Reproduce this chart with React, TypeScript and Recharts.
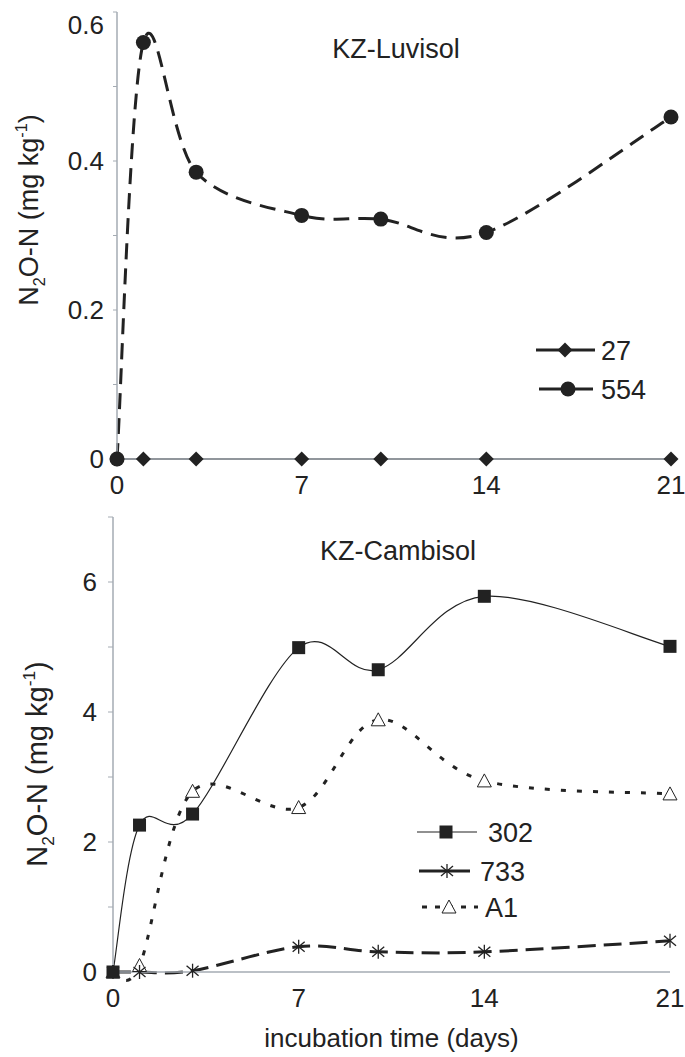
import React from 'react';
import { LineChart, Line, XAxis, YAxis, Legend } from 'recharts';

// incubation days and N2O-N values
const days = [0, 1, 3, 7, 10, 14, 21];
const luvisol27 = [0, 0, 0, 0, 0, 0, 0];
const luvisol554 = [0, 0.559, 0.385, 0.327, 0.322, 0.304, 0.459];
const cambisol302 = [0, 2.26, 2.43, 4.99, 4.65, 5.78, 5.01];
const cambisol733 = [0, 0, 0.02, 0.39, 0.31, 0.31, 0.48];
const cambisolA1 = [0, 0.1, 2.78, 2.53, 3.88, 2.94, 2.74];

const xTicks = [0, 7, 14, 21];
const yTicksTop = [0, 0.1, 0.2, 0.3, 0.4, 0.5, 0.6];
const yLabelsTop = [0, 0.2, 0.4, 0.6];
const yTicksBottom = [0, 1, 2, 3, 4, 5, 6, 7];
const yLabelsBottom = [0, 2, 4, 6];

const topData = days.map((d, i) => ({ day: d, s27: luvisol27[i], s554: luvisol554[i] }));
const bottomData = days.map((d, i) => ({
  day: d,
  s302: cambisol302[i],
  s733: cambisol733[i],
  sA1: cambisolA1[i],
}));

const FONT = '"Liberation Sans", Arial, sans-serif';
const INK = '#222';
const AXIS = '#a4abb3';

// Excel-like smoothed line (catmull-rom style bezier)
const smoothCurve = (context: any) => {
  let pts: [number, number][] = [];
  return {
    areaStart() {},
    areaEnd() {},
    lineStart() {
      pts = [];
    },
    point(x: number, y: number) {
      pts.push([+x, +y]);
    },
    lineEnd() {
      if (!pts.length) return;
      context.moveTo(pts[0][0], pts[0][1]);
      for (let i = 0; i < pts.length - 1; i++) {
        const p0 = pts[i - 1] || pts[i];
        const p1 = pts[i];
        const p2 = pts[i + 1];
        const p3 = pts[i + 2] || p2;
        context.bezierCurveTo(
          p1[0] + (p2[0] - p0[0]) / 6,
          p1[1] + (p2[1] - p0[1]) / 6,
          p2[0] - (p3[0] - p1[0]) / 6,
          p2[1] - (p3[1] - p1[1]) / 6,
          p2[0],
          p2[1]
        );
      }
    },
  };
};

function Marker({ shape, cx, cy }: { shape: string; cx: number; cy: number }) {
  switch (shape) {
    case 'diamond':
      return <polygon points={`${cx},${cy - 7.5} ${cx + 7.5},${cy} ${cx},${cy + 7.5} ${cx - 7.5},${cy}`} fill={INK} />;
    case 'circle':
      return <circle cx={cx} cy={cy} r={7.5} fill={INK} />;
    case 'square':
      return <rect x={cx - 6.5} y={cy - 6.5} width={13} height={13} fill={INK} />;
    case 'triangle':
      return (
        <polygon
          points={`${cx},${cy - 7} ${cx + 7},${cy + 6} ${cx - 7},${cy + 6}`}
          fill="#fff"
          stroke={INK}
          strokeWidth={1}
        />
      );
    default:
      return (
        <g stroke={INK} strokeWidth={1.3}>
          <line x1={cx} y1={cy - 7} x2={cx} y2={cy + 7} />
          <line x1={cx - 6} y1={cy - 5} x2={cx + 6} y2={cy + 5} />
          <line x1={cx - 6} y1={cy + 5} x2={cx + 6} y2={cy - 5} />
        </g>
      );
  }
}

const dotFor = (shape: string) => (p: any) => (
  <Marker key={`${shape}-${p.index}`} shape={shape} cx={p.cx} cy={p.cy} />
);

const YTick = (props: any) => {
  const { x, y, payload, labels, top } = props;
  if (!labels.includes(payload.value)) return null;
  const shift = payload.value === top ? 13 : 0;
  return (
    <text x={x} y={y + shift} dy="0.36em" textAnchor="end" fontSize={26} fill={INK} fontFamily={FONT}>
      {payload.value}
    </text>
  );
};

const YTitle = ({ x, y, size }: { x: number; y: number; size: number }) => (
  <text
    x={x}
    y={y}
    transform={`rotate(-90 ${x} ${y})`}
    textAnchor="middle"
    fontSize={size}
    fill={INK}
    fontFamily={FONT}
  >
    N
    <tspan dy={size * 0.25} fontSize={size * 0.6}>2</tspan>
    <tspan dy={-size * 0.25}>O-N (mg kg</tspan>
    <tspan dy={-size * 0.4} fontSize={size * 0.6}>-1</tspan>
    <tspan dy={size * 0.4}>)</tspan>
  </text>
);

type LegendItem = {
  name: string;
  shape: string;
  y: number;
  x1: number;
  x2: number;
  mx: number;
  tx: number;
  w: number;
  dash?: string;
};

const LegendBlock = ({ items }: { items: LegendItem[] }) => (
  <svg width={150} height={110} style={{ overflow: 'visible' }}>
    {items.map((it) => (
      <g key={it.name}>
        <line x1={it.x1} x2={it.x2} y1={it.y} y2={it.y} stroke={INK} strokeWidth={it.w} strokeDasharray={it.dash} />
        <Marker shape={it.shape} cx={it.mx} cy={it.y} />
        <text x={it.tx} y={it.y} dy="0.36em" fontSize={27} fill={INK} fontFamily={FONT}>
          {it.name}
        </text>
      </g>
    ))}
  </svg>
);

const topLegend: LegendItem[] = [
  { name: '27', shape: 'diamond', y: 14, x1: 0, x2: 59, mx: 29, tx: 65, w: 3 },
  { name: '554', shape: 'circle', y: 53, x1: 3, x2: 57, mx: 32, tx: 65, w: 3 },
];

const bottomLegend: LegendItem[] = [
  { name: '302', shape: 'square', y: 14, x1: 1, x2: 61, mx: 30, tx: 72, w: 1.2 },
  { name: '733', shape: 'star', y: 53, x1: 3, x2: 54, mx: 31, tx: 64, w: 3 },
  { name: 'A1', shape: 'triangle', y: 89, x1: 6, x2: 62, mx: 33, tx: 69, w: 3, dash: '5 8' },
];

const xTick = { fill: INK, fontSize: 26, fontFamily: FONT };

export default function App() {
  return (
    <div style={{ position: 'absolute', left: 0, top: 0, width: 685, height: 1057, background: '#fff' }}>
      <div style={{ position: 'absolute', left: 0, top: 0 }}>
        <LineChart width={685} height={500} data={topData} margin={{ top: 12, right: 14, bottom: 0, left: 0 }}>
          <XAxis
            type="number"
            dataKey="day"
            domain={[0, 21]}
            ticks={xTicks}
            interval={0}
            tickLine={false}
            tickSize={6}
            tickMargin={11}
            height={41}
            axisLine={{ stroke: AXIS, strokeWidth: 1.5 }}
            tick={xTick}
          />
          <YAxis
            type="number"
            domain={[0, 0.6]}
            ticks={yTicksTop}
            interval={0}
            width={117}
            tickSize={4}
            tickMargin={9}
            tickLine={{ stroke: AXIS }}
            axisLine={{ stroke: AXIS, strokeWidth: 1.5 }}
            tick={<YTick labels={yLabelsTop} top={0.6} />}
          />
          <Line
            dataKey="s27"
            name="27"
            type="linear"
            stroke={INK}
            strokeWidth={1.5}
            dot={dotFor('diamond')}
            activeDot={false}
            isAnimationActive={false}
          />
          <Line
            dataKey="s554"
            name="554"
            type={smoothCurve as any}
            stroke={INK}
            strokeWidth={3}
            strokeDasharray="16 9"
            dot={dotFor('circle')}
            activeDot={false}
            isAnimationActive={false}
          />
          <Legend
            layout="horizontal"
            verticalAlign="middle"
            align="center"
            wrapperStyle={{ left: 536, top: 336, width: 150 }}
            content={() => <LegendBlock items={topLegend} />}
          />
          <text x={396} y={58} textAnchor="middle" fontSize={27} fill={INK} fontFamily={FONT}>
            KZ-Luvisol
          </text>
          <YTitle x={38} y={210} size={27} />
        </LineChart>
      </div>
      <div style={{ position: 'absolute', left: 0, top: 500 }}>
        <LineChart width={685} height={557} data={bottomData} margin={{ top: 17, right: 15, bottom: 0, left: 0 }}>
          <XAxis
            type="number"
            dataKey="day"
            domain={[0, 21]}
            ticks={xTicks}
            interval={0}
            tickLine={false}
            tickSize={6}
            tickMargin={11}
            height={85}
            axisLine={{ stroke: AXIS, strokeWidth: 1.5 }}
            tick={xTick}
            label={{
              value: 'incubation time (days)',
              position: 'insideBottom',
              offset: 10,
              fill: INK,
              fontSize: 26,
              fontFamily: FONT,
            }}
          />
          <YAxis
            type="number"
            domain={[0, 7]}
            ticks={yTicksBottom}
            interval={0}
            width={113}
            tickSize={5}
            tickMargin={11}
            tickLine={{ stroke: AXIS }}
            axisLine={{ stroke: AXIS, strokeWidth: 1.5 }}
            tick={<YTick labels={yLabelsBottom} top={null} />}
          />
          <Line
            dataKey="sA1"
            name="A1"
            type={smoothCurve as any}
            stroke={INK}
            strokeWidth={3}
            strokeDasharray="5 11"
            dot={dotFor('triangle')}
            activeDot={false}
            isAnimationActive={false}
          />
          <Line
            dataKey="s733"
            name="733"
            type={smoothCurve as any}
            stroke={INK}
            strokeWidth={3}
            strokeDasharray="18 8"
            dot={dotFor('star')}
            activeDot={false}
            isAnimationActive={false}
          />
          <Line
            dataKey="s302"
            name="302"
            type={smoothCurve as any}
            stroke={INK}
            strokeWidth={1.2}
            dot={dotFor('square')}
            activeDot={false}
            isAnimationActive={false}
          />
          <Legend
            layout="horizontal"
            verticalAlign="middle"
            align="center"
            wrapperStyle={{ left: 416, top: 318, width: 150 }}
            content={() => <LegendBlock items={bottomLegend} />}
          />
          <text x={398} y={60} textAnchor="middle" fontSize={27} fill={INK} fontFamily={FONT}>
            KZ-Cambisol
          </text>
          <YTitle x={47} y={264} size={29} />
        </LineChart>
      </div>
    </div>
  );
}
